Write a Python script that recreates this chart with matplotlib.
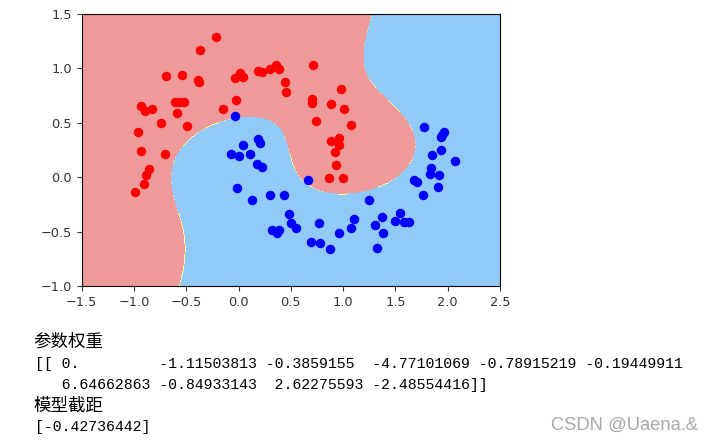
import numpy as np
import matplotlib.pyplot as plt
from matplotlib.colors import ListedColormap

# points
red_x = [-0.219, -0.369, -0.695, -0.539, -0.39, -0.378, -0.036, 0.011, 0.04, 0.19,
         0.222, 0.302, 0.36, 0.385, 0.446, 0.456, -0.024, -0.146, -0.935, -0.897,
         -0.83, -0.612, -0.571, -0.523, -0.59, -0.743, -0.494, -0.957, -0.935, -0.708,
         -0.861, -0.884, -0.909, -0.993, 0.708, 0.983, 0.705, 0.705, 0.887, 1.005,
         0.743, 1.079, 0.887, 0.957, 0.957, 0.919, 0.935, 0.861, 0.996]
red_y = [1.285, 1.169, 0.929, 0.941, 0.895, 0.879, 0.913, 0.957, 0.925, 0.975,
         0.971, 0.999, 1.027, 0.999, 0.874, 0.781, 0.71, 0.63, 0.652, 0.609,
         0.627, 0.689, 0.689, 0.689, 0.593, 0.501, 0.468, 0.412, 0.24, 0.212,
         0.077, 0.018, -0.065, -0.132, 1.033, 0.812, 0.722, 0.686, 0.673, 0.627,
         0.514, 0.477, 0.329, 0.357, 0.295, 0.228, 0.111, -0.003, -0.003]

blue_x = [-0.036, 0.046, 0.19, 0.203, -0.072, 0.0, 0.11, 0.174, 0.228, -0.011,
          0.13, 0.299, 0.432, 0.481, 0.497, 0.552, 0.321, 0.369, 0.391, 0.66,
          0.769, 0.692, 0.782, 0.878, 0.957, 1.079, 1.101, 1.245, 1.306, 1.367,
          1.379, 1.319, 1.494, 1.546, 1.585, 1.633, 1.674, 1.703, 1.763, 1.827,
          1.843, 1.92, 1.907, 1.846, 1.933, 2.074, 1.773, 1.945, 1.965, 1.94]
blue_y = [0.56, 0.295, 0.35, 0.311, 0.216, 0.195, 0.215, 0.126, 0.095, -0.099,
          -0.212, -0.166, -0.166, -0.341, -0.421, -0.467, -0.489, -0.51, -0.489, -0.028,
          -0.421, -0.597, -0.606, -0.664, -0.513, -0.467, -0.385, -0.212, -0.443, -0.363,
          -0.513, -0.652, -0.4, -0.326, -0.412, -0.412, -0.028, -0.043, -0.166, 0.028,
          0.086, 0.018, -0.086, 0.2, 0.249, 0.148, 0.458, 0.387, 0.412, 0.366]

# logistic regression on standardized degree-3 polynomial features
coef = [0., -1.11503813, -0.3859155, -4.77101069, -0.78915219, -0.19449911,
        6.64662863, -0.84933143, 2.62275593, -2.48554416]
intercept = -0.42736442

axis = [-1.5, 2.5, -1.0, 1.5]


def poly3(a, b):
    return np.column_stack([np.ones_like(a), a, b, a**2, a*b, b**2,
                            a**3, a**2*b, a*b**2, b**3])


X = np.r_[np.c_[red_x, red_y], np.c_[blue_x, blue_y]]
P = poly3(X[:, 0], X[:, 1])
mu = P.mean(axis=0)
sd = P.std(axis=0)
sd[sd == 0] = 1


def predict(Xn):
    Z = (poly3(Xn[:, 0], Xn[:, 1]) - mu) / sd
    return (Z @ np.array(coef) + intercept > 0).astype(int)


x0, x1 = np.meshgrid(np.linspace(axis[0], axis[1], int((axis[1] - axis[0]) * 100)),
                     np.linspace(axis[2], axis[3], int((axis[3] - axis[2]) * 100)))
zz = predict(np.c_[x0.ravel(), x1.ravel()]).reshape(x0.shape)

fig = plt.figure(figsize=(7.13, 4.42), dpi=100)
ax = fig.add_axes([0.1146, 0.3529, 0.5867, 0.6154])
custom_cmap = ListedColormap(['#EF9A9A', '#FFF59D', '#90CAF9'])
ax.contourf(x0, x1, zz, cmap=custom_cmap)
ax.scatter(red_x, red_y, color='red', s=34)
ax.scatter(blue_x, blue_y, color='blue', s=34)
ax.set_xlim(axis[0], axis[1])
ax.set_ylim(axis[2], axis[3])
ax.set_xticks(np.arange(-1.5, 2.51, 0.5))
ax.set_yticks(np.arange(-1.0, 1.51, 0.5))
ax.tick_params(labelsize=9.3, length=3.5, colors='#333333')


def fx(px):
    return px / 713


def fy(py):
    return 1 - py / 442


cjk = ['Noto Sans CJK SC', 'DejaVu Sans']
mono = 'Liberation Mono'
line_w = "[[ 0.         -1.11503813 -0.3859155  -4.77101069 -0.78915219 -0.19449911"
line_w2 = "   6.64662863 -0.84933143  2.62275593 -2.48554416]]"
fig.text(fx(33), fy(342), '参数权重', family=cjk, fontsize=12.6, va='center')
fig.text(fx(35), fy(364), line_w, family=mono, fontsize=10.7, va='center')
fig.text(fx(35), fy(385), line_w2, family=mono, fontsize=10.7, va='center')
fig.text(fx(33), fy(406), '模型截距', family=cjk, fontsize=12.6, va='center')
fig.text(fx(35), fy(427), '[%.8f]' % intercept, family=mono, fontsize=10.7, va='center')
fig.text(fx(698), fy(425), 'CSDN @Uaena.&', family='Liberation Sans', fontsize=13.2,
         color='#a8a8a8', ha='right', va='center')

fig.savefig('out.png', dpi=100)
